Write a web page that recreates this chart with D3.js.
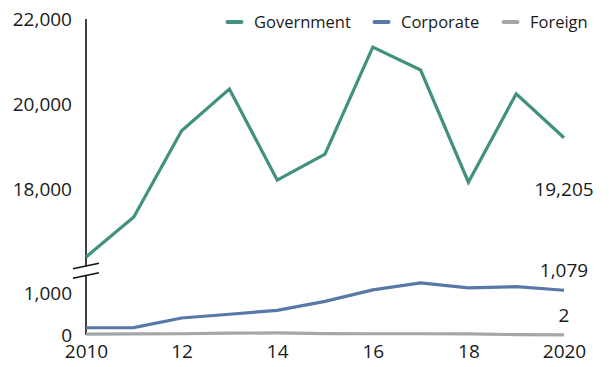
<!DOCTYPE html>
<html>
<head>
<meta charset="utf-8">
<script src="https://cdn.jsdelivr.net/npm/d3@7"></script>
<style>
  body { margin: 0; background: #fff; }
  text { font-family: "Open Sans", "Noto Sans", sans-serif; fill: #1a1a1a; }
</style>
</head>
<body>
<svg id="chart" width="609" height="367"></svg>
<script>
const years = [2010, 2011, 2012, 2013, 2014, 2015, 2016, 2017, 2018, 2019, 2020];
const government = [16400, 17340, 19370, 20350, 18210, 18820, 21340, 20800, 18160, 20240, 19205];
const corporate = [175, 180, 410, 500, 595, 810, 1088, 1255, 1135, 1165, 1079];
const foreign = [20, 25, 30, 45, 50, 35, 30, 30, 25, 10, 2];
const seriesNames = ["Government", "Corporate", "Foreign"];
const seriesColors = ["#42907f", "#5879a8", "#a3a7a9"];
const xTickValues = [2010, 2012, 2014, 2016, 2018, 2020];
const xTickLabels = ["2010", "12", "14", "16", "18", "2020"];
const upperTicks = [18000, 20000, 22000];
const lowerTicks = [0, 1000];

const svg = d3.select("#chart");
const x = d3.scaleLinear().domain([2010, 2020]).range([86, 564]);
const yUp = d3.scaleLinear().domain([16400, 22000]).range([257, 19]);
const yLow = d3.scaleLinear().domain([0, 1000]).range([335, 293.5]);

// y axis line with break
const axisG = svg.append("g");
axisG.append("line").attr("x1", 86).attr("x2", 86).attr("y1", yUp(22000)).attr("y2", 266)
  .attr("stroke", "#111").attr("stroke-width", 1.6);
axisG.append("line").attr("x1", 86).attr("x2", 86).attr("y1", 275).attr("y2", yLow(0))
  .attr("stroke", "#111").attr("stroke-width", 1.6);
[266, 275.5].forEach(cy => {
  axisG.append("line").attr("x1", 73).attr("x2", 99).attr("y1", cy + 2.7).attr("y2", cy - 2.7)
    .attr("stroke", "#111").attr("stroke-width", 1.6);
});

// y tick labels
const upAxis = d3.axisLeft(yUp).tickValues(upperTicks).tickSize(0).tickPadding(14)
  .tickFormat(d3.format(","));
const lowAxis = d3.axisLeft(yLow).tickValues(lowerTicks).tickSize(0).tickPadding(14)
  .tickFormat(d3.format(","));
[upAxis, lowAxis].forEach(ax => {
  const g = svg.append("g").attr("transform", "translate(86,0)").call(ax);
  g.select(".domain").remove();
  g.selectAll("text").style("font-size", "19px").style("font-family", "'Open Sans', sans-serif").attr("fill", "#1a1a1a");
});

// x tick labels
const xAxis = d3.axisBottom(x).tickValues(xTickValues).tickSize(0).tickPadding(10)
  .tickFormat((d, i) => xTickLabels[i]);
const xg = svg.append("g").attr("transform", "translate(0,335)").call(xAxis);
xg.select(".domain").remove();
xg.selectAll("text").style("font-size", "19px").style("font-family", "'Open Sans', sans-serif").attr("fill", "#1a1a1a");

// lines
const lineUp = d3.line().x((d, i) => x(years[i])).y(d => yUp(d));
const lineLow = d3.line().x((d, i) => x(years[i])).y(d => yLow(d));

svg.append("path").datum(foreign).attr("d", lineLow).attr("fill", "none")
  .attr("stroke", seriesColors[2]).attr("stroke-width", 3.2);
svg.append("path").datum(corporate).attr("d", lineLow).attr("fill", "none")
  .attr("stroke", seriesColors[1]).attr("stroke-width", 3.2);
svg.append("path").datum(government).attr("d", lineUp).attr("fill", "none")
  .attr("stroke", seriesColors[0]).attr("stroke-width", 3.2);

// end labels
const fmt = d3.format(",");
svg.append("text").attr("x", x(2020)).attr("y", yUp(government[10]) + 58)
  .attr("text-anchor", "middle").style("font-size", "19px").text(fmt(government[10]));
svg.append("text").attr("x", x(2020)).attr("y", yLow(corporate[10]) - 13)
  .attr("text-anchor", "middle").style("font-size", "19px").text(fmt(corporate[10]));
svg.append("text").attr("x", x(2020)).attr("y", yLow(foreign[10]) - 13)
  .attr("text-anchor", "middle").style("font-size", "19px").text(fmt(foreign[10]));

// legend
const legendX = [226, 373, 502];
seriesNames.forEach((name, i) => {
  const g = svg.append("g").attr("transform", `translate(${legendX[i]},22)`);
  g.append("line").attr("x1", 1.5).attr("x2", 15.5).attr("y1", 0).attr("y2", 0)
    .attr("stroke", seriesColors[i]).attr("stroke-width", 4).attr("stroke-linecap", "round");
  g.append("text").attr("x", 28).attr("y", 0).attr("dy", "0.35em")
    .style("font-size", "16.5px").text(name);
});
</script>
</body>
</html>
